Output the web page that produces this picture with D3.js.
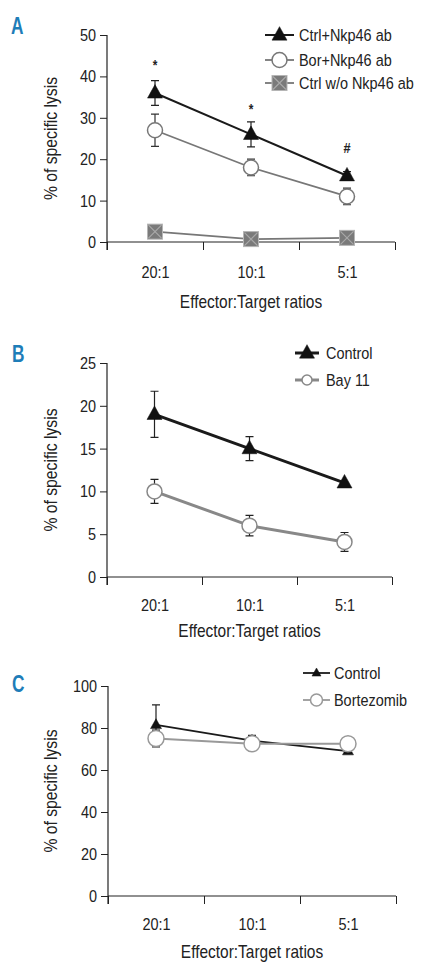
<!DOCTYPE html>
<html><head><meta charset="utf-8">
<script src="https://cdn.jsdelivr.net/npm/d3@7"></script>
<style>
body{margin:0;background:#fff;}
svg{display:block;}
text{font-family:"Liberation Sans",Arial,sans-serif;fill:#222;}
</style></head>
<body><svg id="c" width="426" height="980"></svg>
<script>
const categories = ["20:1","10:1","5:1"];

// Panel A
const aTicks = [0,10,20,30,40,50];
const aCtrlNkp = [36,26,16];
const aCtrlNkpErr = [3,3,1];
const aBorNkp = [27,18,11];
const aBorNkpErr = [3.9,2,2];
const aCtrlWo = [2.5,0.7,1.0];
const aCtrlWoErr = [0,0,0];
const aMarks = ["*","*","#"];

// Panel B
const bTicks = [0,5,10,15,20,25];
const bControl = [19,15,11];
const bControlErr = [2.7,1.4,0];
const bBay = [10,6,4.1];
const bBayErr = [1.4,1.2,1.1];

// Panel C
const cTicks = [0,20,40,60,80,100];
const cControl = [81.5,74,69];
const cControlErr = [9.5,2.5,0];
const cBort = [75,72.5,72.5];
const cBortErr = [4,0,0];

const svg = d3.select("#c");
const BLUE = "#1e7db8";

function triangle(g, x, y, s, fill){
  const h = s*0.9;
  g.append("path").attr("d",`M${x},${y-h*0.62}L${x+s/2},${y+h*0.38}L${x-s/2},${y+h*0.38}Z`)
   .attr("fill",fill).attr("stroke",fill).attr("stroke-width",0.5);
}
function circle(g,x,y,r,stroke){
  g.append("circle").attr("cx",x).attr("cy",y).attr("r",r).attr("fill","#fff").attr("stroke",stroke).attr("stroke-width",1.5);
}
function square(g,x,y,s){
  g.append("rect").attr("x",x-s/2).attr("y",y-s/2).attr("width",s).attr("height",s).attr("fill","#7a7a7a").attr("stroke","#b5b5b5").attr("stroke-width",1);
  g.append("path").attr("d",`M${x-s/2+1},${y-s/2+1}L${x+s/2-1},${y+s/2-1}M${x+s/2-1},${y-s/2+1}L${x-s/2+1},${y+s/2-1}`).attr("stroke","#a8a8a8").attr("stroke-width",1.2);
}
function marker(g,type,x,y,size,color){
  if(type==="tri") triangle(g,x,y,size,color);
  else if(type==="circ") circle(g,x,y,size/2,color);
  else square(g,x,y,size);
}

function panel(cfg){
  const g = svg.append("g");
  const y = d3.scaleLinear().domain([0,cfg.ticks[cfg.ticks.length-1]]).range([cfg.y0,cfg.y1]);
  const xb = d3.scaleLinear().domain([0,3]).range([cfg.x0,cfg.x1]);
  const xc = d3.scalePoint().domain(categories).range([xb(0.5),xb(2.5)]);

  // letter
  g.append("text").attr("x",cfg.letterX).attr("y",cfg.letterY).text(cfg.letter)
   .attr("class","letter")
   .style("font-weight","bold").style("font-size","24px").style("fill",BLUE);

  // y axis
  const ya = g.append("g").attr("transform",`translate(${cfg.x0},0)`)
    .call(d3.axisLeft(y).tickValues(cfg.ticks).tickSize(7).tickPadding(4).tickFormat(d3.format("d")));
  ya.select(".domain").attr("stroke","#222").attr("stroke-width",1.2).attr("d",`M0,${cfg.y0+8}V${cfg.y1}`);
  ya.selectAll(".tick line").attr("stroke","#222");
  ya.selectAll("text").style("font-size","17px").style("font-family","'Liberation Sans',Arial,sans-serif").attr("fill","#222");

  // x axis boundaries
  const xa = g.append("g").attr("transform",`translate(0,${cfg.y0})`)
    .call(d3.axisBottom(xb).tickValues([0,1,2,3]).tickSize(8).tickFormat(""));
  xa.select(".domain").attr("stroke","#222").attr("stroke-width",1.2).attr("d",`M${cfg.x0},0H${cfg.x1}`);
  xa.selectAll(".tick line").attr("stroke","#222");
  // x labels
  const xl = g.append("g").attr("transform",`translate(0,${cfg.y0})`)
    .call(d3.axisBottom(xc).tickSize(0).tickPadding(cfg.xlabPad));
  xl.select(".domain").remove();
  xl.selectAll("text").style("font-size","17px").style("font-family","'Liberation Sans',Arial,sans-serif").attr("fill","#222");

  // titles
  g.append("text").attr("x",(cfg.x0+cfg.x1)/2).attr("y",cfg.titleY).attr("text-anchor","middle")
   .style("font-size","18.2px").text("Effector:Target ratios");
  g.append("text").attr("transform",`translate(${cfg.ylabX},${(cfg.y0+cfg.y1)/2}) rotate(-90)`).attr("text-anchor","middle")
   .style("font-size","18.5px").text("% of specific lysis");

  const line = d3.line().x((d,i)=>xc(categories[i])).y(d=>y(d));
  cfg.series.forEach(s=>{
    g.append("path").datum(s.values).attr("d",line).attr("fill","none").attr("stroke",s.color).attr("stroke-width",s.lw);
  });
  cfg.series.forEach(s=>{
    s.values.forEach((v,i)=>{
      const e = s.err[i]; if(!e) return;
      const x = xc(categories[i]);
      g.append("path").attr("d",`M${x},${y(v-e)}V${y(v+e)}M${x-4},${y(v+e)}H${x+4}M${x-4},${y(v-e)}H${x+4}`)
       .attr("stroke",s.errColor).attr("stroke-width",1.2).attr("fill","none");
    });
  });
  cfg.series.forEach(s=>{
    s.values.forEach((v,i)=>marker(g,s.marker,xc(categories[i]),y(v),s.size,s.mcolor));
  });
  if(cfg.marks){
    cfg.marks.forEach((m,i)=>{
      g.append("text").attr("x",xc(categories[i])).attr("y",y(cfg.markVals[i])).attr("text-anchor","middle")
       .style("font-size",m==="#"?"15px":"14px").style("font-weight","bold").text(m);
    });
  }
  // legend
  cfg.series.forEach((s,k)=>{
    const ly = cfg.legY[k];
    g.append("path").attr("d",`M${cfg.legX0},${ly}H${cfg.legX1}`).attr("stroke",s.color).attr("stroke-width",s.lw);
    marker(g,s.marker,(cfg.legX0+cfg.legX1)/2,ly,s.legSize||s.size,s.mcolor);
    g.append("text").attr("x",cfg.legTX).attr("y",ly).attr("dy","0.35em").style("font-size","17px").text(s.name);
  });
}

panel({
  letter:"A", letterX:11, letterY:34,
  ticks:aTicks, x0:107, x1:395, y0:242, y1:35, xlabPad:24, titleY:308, ylabX:57,
  series:[
    {name:"Ctrl+Nkp46 ab",values:aCtrlNkp,err:aCtrlNkpErr,color:"#1a1a1a",lw:2,marker:"tri",size:15,mcolor:"#111",errColor:"#222"},
    {name:"Bor+Nkp46 ab",values:aBorNkp,err:aBorNkpErr,color:"#777",lw:1.8,marker:"circ",size:15,mcolor:"#777",errColor:"#333"},
    {name:"Ctrl w/o Nkp46 ab",values:aCtrlWo,err:aCtrlWoErr,color:"#777",lw:1.8,marker:"sq",size:15,mcolor:"#777",errColor:"#333"}
  ],
  marks:aMarks, markVals:[41.5,31,21.5],
  legX0:265, legX1:294, legTX:299, legY:[35,60,83]
});

panel({
  letter:"B", letterX:12, letterY:362,
  ticks:bTicks, x0:107, x1:392, y0:577, y1:363, xlabPad:22, titleY:637, ylabX:57,
  series:[
    {name:"Control",values:bControl,err:bControlErr,color:"#1a1a1a",lw:3,marker:"tri",size:15,mcolor:"#111",errColor:"#222"},
    {name:"Bay 11",values:bBay,err:bBayErr,color:"#888",lw:3,marker:"circ",size:15,mcolor:"#888",errColor:"#222",legSize:10}
  ],
  legX0:295, legX1:319, legTX:326, legY:[353,380]
});

panel({
  letter:"C", letterX:12, letterY:692,
  ticks:cTicks, x0:108, x1:396, y0:896, y1:686, xlabPad:22, titleY:958, ylabX:57,
  series:[
    {name:"Control",values:cControl,err:cControlErr,color:"#1a1a1a",lw:1.8,marker:"tri",size:11,mcolor:"#111",errColor:"#222",legSize:9},
    {name:"Bortezomib",values:cBort,err:cBortErr,color:"#999",lw:1.8,marker:"circ",size:16,mcolor:"#999",errColor:"#222",legSize:12}
  ],
  legX0:303, legX1:330, legTX:334, legY:[673,700]
});

// condense all text horizontally around its anchor (narrow-font look)
svg.selectAll("text").each(function(){
  const t = d3.select(this);
  const sx = t.classed("letter") ? 0.72 : 0.85;
  const x = +t.attr("x") || 0;
  const tr = t.attr("transform") || "";
  t.attr("transform", `${tr} translate(${x},0) scale(${sx},1) translate(${-x},0)`);
});
</script></body></html>
